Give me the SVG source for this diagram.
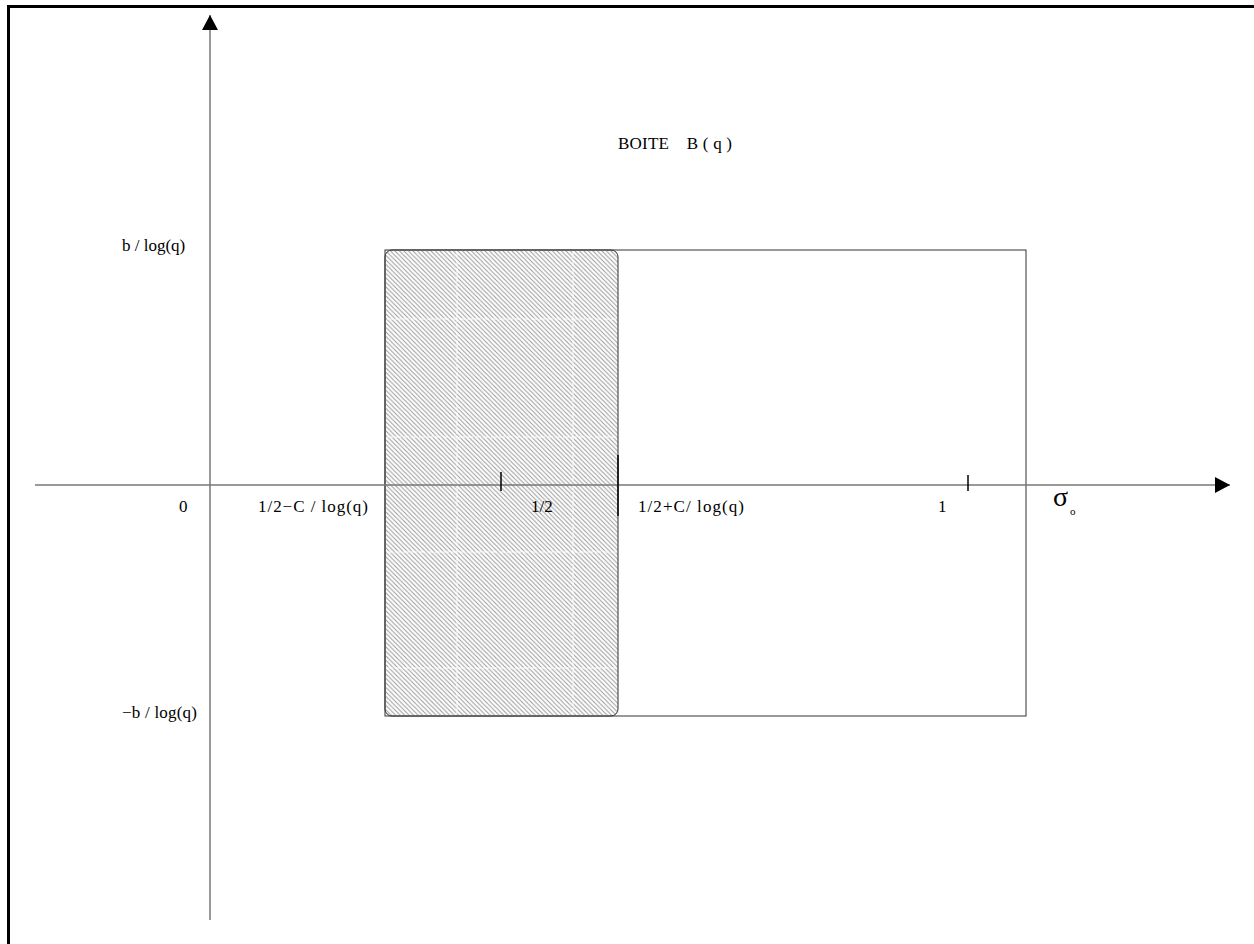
<svg xmlns="http://www.w3.org/2000/svg" width="1254" height="944" viewBox="0 0 1254 944">
<style>
.t{font-family:"Liberation Serif","Times New Roman",serif;font-size:17px;fill:#000;white-space:pre}
.ax{stroke:#777;stroke-width:1.5;fill:none}
.tk{stroke:#000;stroke-width:1.5}
</style>
<defs>
<pattern id="hatch" patternUnits="userSpaceOnUse" width="4.5" height="4.5">
<path d="M-1,-1 L5.5,5.5 M-1,3.5 L1,5.5 M3.5,-1 L5.5,1" stroke="#999" stroke-width="1"/>
</pattern>
<marker id="arr" markerWidth="16" markerHeight="16" refX="15" refY="8" orient="auto" markerUnits="userSpaceOnUse">
<path d="M0,0 L15,8 L0,16 Z" fill="#000"/>
</marker>
</defs>
<rect width="1254" height="944" fill="#fff"/>
<path d="M8.5,944 V6.5 H1254" stroke="#000" stroke-width="3" fill="none"/>
<g id="box">
<rect x="385" y="250" width="641" height="466" fill="none" stroke="#333" stroke-width="1"/>
</g>
<g id="hatched">
<rect x="385" y="250" width="233" height="466" rx="7" ry="7" fill="url(#hatch)" stroke="#333" stroke-width="1"/>
<g stroke="#fff" stroke-width="1" stroke-dasharray="6,2">
<line x1="457" y1="252" x2="457" y2="714"/>
<line x1="573" y1="252" x2="573" y2="714"/>
<line x1="387" y1="319" x2="616" y2="319"/>
<line x1="387" y1="437" x2="616" y2="437"/>
<line x1="387" y1="552" x2="616" y2="552"/>
<line x1="387" y1="668" x2="616" y2="668"/>
</g>
</g>
<g id="connectors">
<line class="ax" x1="210" y1="920" x2="210" y2="15" marker-end="url(#arr)"/>
<line class="ax" x1="35" y1="485" x2="1230" y2="485" marker-end="url(#arr)"/>
<line class="tk" x1="501" y1="472" x2="501" y2="491"/>
<line class="tk" x1="618" y1="455" x2="618" y2="516"/>
<line class="tk" x1="968" y1="475" x2="968" y2="491"/>
</g>
<g id="labels">
<text class="t" x="618" y="149" xml:space="preserve" textLength="114">BOITE    B ( q )</text>
<text class="t" x="122" y="251">b / log(q)</text>
<text class="t" x="122" y="718" textLength="75">−b / log(q)</text>
<text class="t" x="179" y="512">0</text>
<text class="t" x="258" y="512" xml:space="preserve" textLength="110">1/2−C / log(q)</text>
<text class="t" x="531" y="512">1/2</text>
<text class="t" x="638" y="512" textLength="106">1/2+C/ log(q)</text>
<text class="t" x="938" y="512">1</text>
<text class="t" x="1053" y="506" style="font-size:28px">σ</text>
<text class="t" x="1070" y="515" style="font-size:11px">o</text>
</g>
</svg>
